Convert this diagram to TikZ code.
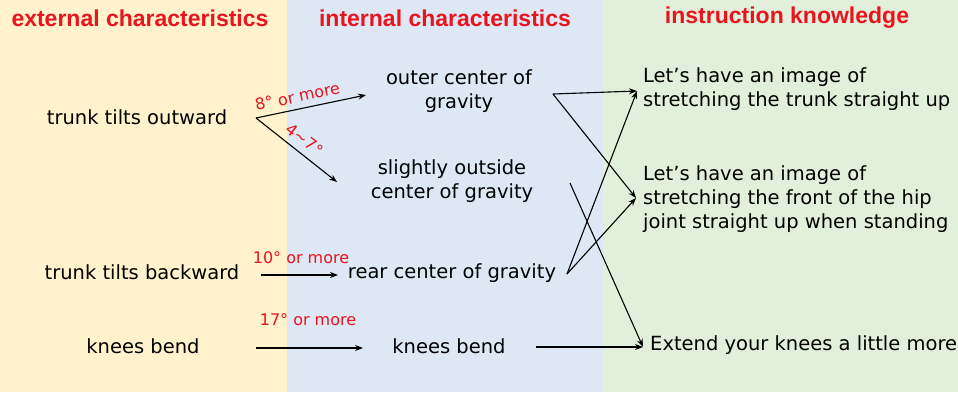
\documentclass[tikz,border=0pt]{standalone}
\usepackage{fontspec}
\setmainfont{DejaVu Sans}
\newfontfamily\headfont{Liberation Sans}
\usetikzlibrary{arrows.meta}
\definecolor{bgorange}{HTML}{FFF2CC}
\definecolor{bgblue}{HTML}{DDE8F4}
\definecolor{bggreen}{HTML}{E2EFDA}
\definecolor{hred}{HTML}{E8141E}
\begin{document}
\begin{tikzpicture}[x=1pt,y=-1pt,
  txt/.style={font=\fontsize{19.5}{24}\selectfont, align=center, inner sep=0pt},
  ltxt/.style={font=\fontsize{19.5}{24}\selectfont, align=left, anchor=west, inner sep=0pt},
  head/.style={font=\headfont\bfseries\fontsize{23}{26}\selectfont, text=hred, inner sep=0pt},
  lbl/.style={font=\fontsize{16}{18}\selectfont, text=hred, inner sep=0pt},
  arr/.style={draw=black, line width=1.1pt, -{Stealth[length=8pt,width=6pt]}},
  ln/.style={draw=black, line width=1.1pt}]
\useasboundingbox (0,0) rectangle (958,392);
\fill[bgorange] (0,0) rectangle (287,392);
\fill[bgblue] (287,0) rectangle (603,392);
\fill[bggreen] (603,0) rectangle (958,392);

\node[head] (h1) at (140,18) {external characteristics};
\node[head] (h2) at (445,18) {internal characteristics};
\node[head] (h3) at (787,18) {instruction knowledge};

\node[txt] (e1) at (137,117) {trunk tilts outward};
\node[txt] (e2) at (142,272) {trunk tilts backward};
\node[txt] (e3) at (143,346) {knees bend};

\node[txt] (i1) at (459,91) {outer center of\\gravity};
\node[txt] (i2) at (452,181) {slightly outside\\center of gravity};
\node[txt] (i3) at (452,273) {rear center of gravity};
\node[txt] (i4) at (449,346) {knees bend};

\node[ltxt] (k1) at (643,89) {Let's have an image of\\stretching the trunk straight up};
\node[ltxt] (k2) at (643,199) {Let's have an image of\\stretching the front of the hip\\joint straight up when standing};
\node[ltxt] (k3) at (650,345) {Extend your knees a little more};

% coordinates
\coordinate (eo) at (256,118);
\coordinate (i1in) at (366,95);
\coordinate (i2in) at (337,182);
\coordinate (e2out) at (261,275);
\coordinate (i3in) at (338,275);
\coordinate (e3out) at (256,348);
\coordinate (i4in) at (363,348);
\coordinate (i1out) at (553,94);
\coordinate (i2out) at (570,183);
\coordinate (i3out) at (567,274);
\coordinate (i4out) at (536,347);
\coordinate (k1in) at (637,91);
\coordinate (k2in) at (636,198);
\coordinate (k3in) at (643,347);

\draw[arr] (eo) -- node[lbl, sloped, above=6pt, pos=0.4] (l1) {8° or more} (i1in);
\draw[arr] (eo) -- node[lbl, sloped, above=7pt, pos=0.5] (l2) {4∼7°} (i2in);
\draw[arr] (e2out) -- (i3in);
\node[lbl] (l3) at (301,258) {10° or more};
\draw[arr] (e3out) -- (i4in);
\node[lbl] (l4) at (308,320) {17° or more};
\draw[arr] (i4out) -- (k3in);

\draw[arr] (i1out) -- (k1in);
\draw[arr] (i1out) -- (k2in);
\draw[arr] (i3out) -- (k1in);
\draw[arr] (i3out) -- (k2in);
\draw[arr] (i2out) -- (k3in);
\end{tikzpicture}
\end{document}
